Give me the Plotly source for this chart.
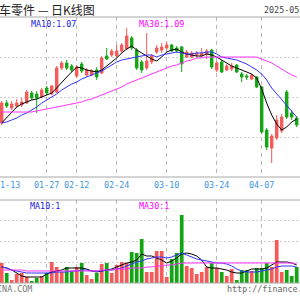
import plotly.graph_objects as go

# ---- data ----
dates = ["01-14", "01-15", "01-16", "01-17", "01-20", "01-21", "01-22", "01-23", "01-24", "01-27",
         "02-05", "02-06", "02-07", "02-10", "02-11", "02-12", "02-13", "02-14", "02-17", "02-18",
         "02-19", "02-20", "02-21", "02-24", "02-25", "02-26", "02-27", "02-28", "03-03", "03-04",
         "03-05", "03-06", "03-07", "03-10", "03-11", "03-12", "03-13", "03-14", "03-17", "03-18",
         "03-19", "03-20", "03-21", "03-24", "03-25", "03-26", "03-27", "03-28", "03-31", "04-01",
         "04-02", "04-03", "04-07", "04-08", "04-09", "04-10", "04-11", "04-14", "04-15", "04-16"]

opens = [1.054, 1.074, 1.069, 1.071, 1.072, 1.074, 1.084, 1.083, 1.080, 1.089,
         1.083, 1.085, 1.109, 1.114, 1.111, 1.101, 1.113, 1.102, 1.102, 1.107,
         1.104, 1.121, 1.122, 1.121, 1.126, 1.128, 1.139, 1.127, 1.115, 1.109,
         1.115, 1.125, 1.127, 1.129, 1.132, 1.129, 1.130, 1.120, 1.120, 1.122,
         1.121, 1.123, 1.127, 1.107, 1.115, 1.107, 1.108, 1.112, 1.103, 1.101,
         1.098, 1.100, 1.090, 1.047, 1.029, 1.039, 1.046, 1.085, 1.064, 1.059]
highs = [1.076, 1.077, 1.076, 1.078, 1.079, 1.087, 1.086, 1.086, 1.089, 1.091,
         1.092, 1.111, 1.116, 1.117, 1.113, 1.112, 1.115, 1.109, 1.108, 1.110,
         1.121, 1.129, 1.128, 1.132, 1.134, 1.149, 1.141, 1.129, 1.117, 1.144,
         1.123, 1.132, 1.134, 1.135, 1.133, 1.131, 1.131, 1.127, 1.126, 1.126,
         1.129, 1.128, 1.128, 1.116, 1.117, 1.113, 1.114, 1.113, 1.105, 1.103,
         1.103, 1.101, 1.091, 1.049, 1.043, 1.062, 1.063, 1.087, 1.067, 1.061]
lows = [1.052, 1.069, 1.067, 1.069, 1.070, 1.073, 1.077, 1.064, 1.079, 1.082,
        1.082, 1.084, 1.107, 1.107, 1.105, 1.099, 1.104, 1.100, 1.101, 1.097,
        1.103, 1.117, 1.120, 1.120, 1.124, 1.127, 1.127, 1.107, 1.104, 1.107,
        1.113, 1.123, 1.124, 1.127, 1.125, 1.124, 1.105, 1.119, 1.119, 1.120,
        1.120, 1.118, 1.108, 1.105, 1.104, 1.106, 1.106, 1.104, 1.095, 1.097,
        1.097, 1.089, 1.043, 1.027, 1.014, 1.037, 1.044, 1.058, 1.057, 1.050]
closes = [1.074, 1.071, 1.073, 1.074, 1.075, 1.085, 1.079, 1.079, 1.087, 1.084,
          1.091, 1.109, 1.114, 1.109, 1.107, 1.110, 1.106, 1.107, 1.106, 1.100,
          1.119, 1.118, 1.126, 1.126, 1.132, 1.141, 1.129, 1.109, 1.107, 1.116,
          1.121, 1.129, 1.130, 1.132, 1.126, 1.126, 1.113, 1.125, 1.124, 1.124,
          1.124, 1.126, 1.110, 1.114, 1.105, 1.111, 1.111, 1.105, 1.100, 1.100,
          1.102, 1.090, 1.045, 1.030, 1.041, 1.057, 1.060, 1.060, 1.060, 1.052]

ma5 = [1.054, 1.059, 1.065, 1.070, 1.073, 1.075, 1.077, 1.078, 1.080, 1.082,
       1.084, 1.089, 1.095, 1.100, 1.105, 1.110, 1.109, 1.107, 1.106, 1.105,
       1.107, 1.111, 1.115, 1.119, 1.124, 1.128, 1.131, 1.127, 1.124, 1.121,
       1.118, 1.116, 1.120, 1.125, 1.127, 1.128, 1.125, 1.123, 1.122, 1.121,
       1.121, 1.123, 1.122, 1.120, 1.117, 1.114, 1.111, 1.109, 1.107, 1.105,
       1.103, 1.099, 1.088, 1.074, 1.062, 1.053, 1.047, 1.050, 1.055, 1.058]
ma10 = [1.054, 1.055, 1.057, 1.059, 1.062, 1.064, 1.067, 1.070, 1.074, 1.077,
        1.080, 1.083, 1.087, 1.090, 1.093, 1.095, 1.098, 1.100, 1.102, 1.104,
        1.106, 1.109, 1.112, 1.115, 1.117, 1.118, 1.119, 1.120, 1.121, 1.122,
        1.122, 1.120, 1.122, 1.123, 1.124, 1.125, 1.124, 1.123, 1.123, 1.124,
        1.124, 1.125, 1.125, 1.123, 1.120, 1.119, 1.118, 1.117, 1.115, 1.113,
        1.110, 1.107, 1.103, 1.097, 1.089, 1.083, 1.077, 1.072, 1.066, 1.060]
ma30 = [1.065, 1.065, 1.065, 1.065, 1.065, 1.065, 1.065, 1.066, 1.067, 1.068,
        1.069, 1.070, 1.071, 1.072, 1.073, 1.074, 1.075, 1.077, 1.078, 1.080,
        1.082, 1.084, 1.086, 1.088, 1.090, 1.093, 1.095, 1.097, 1.099, 1.101,
        1.103, 1.105, 1.107, 1.109, 1.111, 1.112, 1.114, 1.116, 1.117, 1.119,
        1.119, 1.120, 1.120, 1.120, 1.120, 1.120, 1.120, 1.120, 1.120, 1.120,
        1.120, 1.120, 1.118, 1.116, 1.114, 1.111, 1.108, 1.105, 1.102, 1.100]

volumes = [20, 10, 3, 9, 10, 6, 2, 5, 7, 10,
           21, 16, 11, 16, 12, 16, 20, 8, 4, 10,
           19, 20, 10, 18, 21, 20, 31, 30, 44, 11,
           11, 32, 32, 6, 24, 30, 68, 17, 15, 9,
           11, 16, 20, 15, 11, 7, 14, 3, 13, 13,
           12, 15, 15, 20, 16, 43, 11, 13, 7, 16]
vol_ma5 = [16, 15, 13, 10, 7, 6, 6, 6, 6, 9,
           11, 12, 13, 15, 15, 15, 15, 14, 12, 11,
           12, 13, 14, 16, 18, 20, 21, 23, 29, 27,
           27, 25, 23, 20, 22, 25, 29, 30, 29, 27,
           23, 16, 15, 15, 14, 13, 11, 10, 10, 12,
           14, 14, 14, 15, 18, 21, 21, 21, 20, 18]
vol_ma10 = [16, 15, 13, 12, 11, 10, 10, 10, 10, 10,
            10, 11, 11, 11, 12, 12, 13, 13, 12, 12,
            12, 13, 13, 14, 15, 17, 19, 21, 22, 24,
            25, 26, 26, 25, 26, 28, 30, 28, 26, 24,
            23, 22, 21, 20, 20, 19, 17, 14, 12, 11,
            11, 11, 12, 13, 14, 16, 17, 17, 17, 16]
vol_ma30 = [13, 13, 13, 13, 13, 12, 12, 12, 12, 12,
            12, 12, 12, 12, 12, 12, 12, 12, 12, 12,
            13, 13, 13, 14, 14, 14, 15, 15, 15, 16,
            16, 17, 17, 18, 18, 19, 20, 20, 20, 20,
            20, 20, 20, 20, 20, 20, 20, 20, 20, 20,
            20, 20, 20, 20, 20, 20, 20, 20, 20, 19]

tick_idx = [9, 15, 23, 33, 43, 52]
tick_text = [dates[i] for i in tick_idx]
first_label = "01-13"

title_text = "汽车零件 — 日K线图"
date_text = "2025-05-09"
ma_price_labels = ["MA10:1.07", "MA30:1.09"]
ma_vol_labels = ["MA10:1", "MA30:1"]

# ---- styling ----
RED = "#f45a5a"
GREEN = "#14a514"
BLUE = "#3232ff"
MAGENTA = "#ff32ff"
MONO = "DejaVu Sans Mono, monospace"
W = H = 300

x = list(range(len(dates)))

fig = go.Figure()
fig.add_trace(go.Candlestick(
    x=x, open=opens, high=highs, low=lows, close=closes,
    increasing=dict(line=dict(color=RED, width=1), fillcolor=RED),
    decreasing=dict(line=dict(color=GREEN, width=1), fillcolor=GREEN),
    whiskerwidth=0, xaxis="x", yaxis="y", hoverinfo="skip", showlegend=False))
for arr, col in [(ma5, "#000000"), (ma10, BLUE), (ma30, MAGENTA)]:
    fig.add_trace(go.Scatter(x=x, y=arr, mode="lines", line=dict(color=col, width=1),
                             xaxis="x", yaxis="y", hoverinfo="skip", showlegend=False))

vol_colors = [RED if c >= o else GREEN for o, c in zip(opens, closes)]
fig.add_trace(go.Bar(x=x, y=volumes, marker=dict(color=vol_colors, line=dict(width=0)),
                     width=0.75, xaxis="x2", yaxis="y2", hoverinfo="skip", showlegend=False))
for arr, col in [(vol_ma5, "#000000"), (vol_ma10, BLUE), (vol_ma30, MAGENTA)]:
    fig.add_trace(go.Scatter(x=x, y=arr, mode="lines", line=dict(color=col, width=1),
                             xaxis="x2", yaxis="y2", hoverinfo="skip", showlegend=False))

def py(p):
    return 1 - p / H

xr = [-0.34, len(dates) - 0.34]
xgrid = dict(range=xr, tickvals=tick_idx, showticklabels=False, ticks="", showgrid=True,
             gridcolor="#b8b8b8", griddash="4px,4px", gridwidth=1, zeroline=False, showline=False)
ygrid = dict(showticklabels=False, ticks="", showgrid=True, gridcolor="#cfcfcf",
             griddash="2px,2px", gridwidth=1, zeroline=False, showline=False)

fig.update_layout(
    width=W, height=H, margin=dict(l=0, r=0, t=0, b=0),
    paper_bgcolor="white", plot_bgcolor="white", showlegend=False,
    xaxis=dict(domain=[0, 1], anchor="y", rangeslider=dict(visible=False), **xgrid),
    xaxis2=dict(domain=[0, 1], anchor="y2", matches="x", **xgrid),
    yaxis=dict(domain=[py(177), py(17)], range=[1.0, 1.16], tickvals=[1.04, 1.08, 1.12], **ygrid),
    yaxis2=dict(domain=[py(283), py(200)], range=[0, 83], tickvals=[21, 42, 63], **ygrid),
)

shapes = []
for yy in [17, 177, 200, 283]:
    shapes.append(dict(type="line", xref="paper", yref="paper", x0=0, x1=1, y0=py(yy), y1=py(yy),
                       line=dict(color="#a8a8a8", width=1)))
fig.update_layout(shapes=shapes)

ann = []
def text(s, px, pyy, color, size=8.4, family=MONO, anchor="left", xref="paper"):
    ann.append(dict(text=s, x=px / W if xref == "paper" else px, y=py(pyy), xref=xref, yref="paper",
                    xanchor=anchor, yanchor="middle", showarrow=False,
                    font=dict(family=family, size=size, color=color)))

text(title_text, -15, 10, "#222222", size=12, family="Noto Sans CJK SC")
text(date_text, 262, 10, "#444444")
text(ma_price_labels[0], 29, 23.5, "#2020e0")
text(ma_price_labels[1], 137, 23.5, "#ff00ff")
text(ma_vol_labels[0], 28, 205.5, "#2020e0")
text(ma_vol_labels[1], 137, 205.5, "#ff00ff")
for i, t in zip(tick_idx, tick_text):
    text(t, i, 185, "#3c96dc", anchor="center", xref="x")
text(first_label, 1.16, 185, "#3c96dc", anchor="center", xref="x")
text("SINA.COM", -10, 288.5, "#777777")
text("http://finance.sina.com.cn", 225, 288.5, "#666666")
fig.update_layout(annotations=ann)

fig.write_html("out.html")
